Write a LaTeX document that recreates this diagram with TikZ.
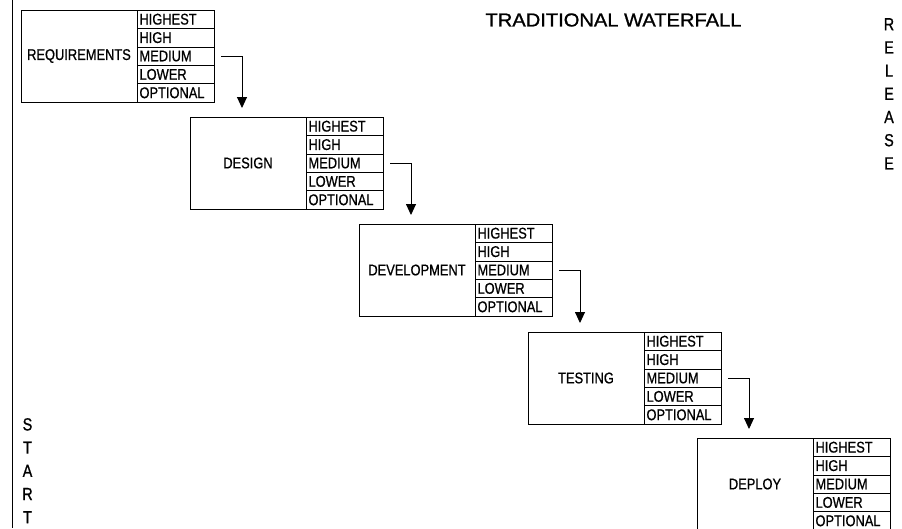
\documentclass[tikz,border=0pt]{standalone}
\usepackage{fontspec}
\setmainfont{Liberation Sans}
\newfontfamily\condfont{Liberation Sans}[FakeStretch=0.83,FakeBold=0.8]
\newfontfamily\vertfont{Liberation Sans}[FakeStretch=0.82,FakeBold=1]
\newfontfamily\titlefont{Liberation Sans}[FakeStretch=1.07,FakeBold=1]
\usetikzlibrary{arrows.meta}
\tikzset{
  x=1pt, y=-1pt,
  line width=0.9pt,
  mainbox/.style={draw, anchor=north west, minimum width=116pt, minimum height=92pt,
    inner sep=0pt, outer sep=0pt, font=\condfont\fontsize{15.5}{18}\selectfont},
  rowbox/.style={draw, anchor=north west, text width=72pt, inner xsep=2.5pt, inner ysep=0pt,
    minimum height=18.4pt, align=left, outer sep=0pt, font=\condfont\fontsize{15.5}{18}\selectfont},
  flowarrow/.style={-{Triangle[width=10pt,length=11pt]}, line width=0.9pt},
  vertlabel/.style={anchor=north, align=center, inner sep=0pt, font=\vertfont\fontsize{17.5}{23.2}\selectfont},
  titlelabel/.style={inner sep=0pt, font=\titlefont\fontsize{18.8}{22}\selectfont}
}
\newcommand{\wfstage}[4]{%
  \node[mainbox] (#1) at (#2,#3) {#4};
  \node[rowbox] (#1-1) at (#1.north east) {HIGHEST};
  \node[rowbox] (#1-2) at (#1-1.south west) {HIGH};
  \node[rowbox] (#1-3) at (#1-2.south west) {MEDIUM};
  \node[rowbox] (#1-4) at (#1-3.south west) {LOWER};
  \node[rowbox] (#1-5) at (#1-4.south west) {OPTIONAL};
}
\begin{document}
\begin{tikzpicture}
\useasboundingbox (0,0) rectangle (902,528);
\clip (0,0) rectangle (902,528);
\coordinate (ltop) at (12,0);
\coordinate (lbot) at (12,528);
\draw (ltop) -- (lbot);
\node[titlelabel] (title) at (613.5,20) {TRADITIONAL WATERFALL};
\node[vertlabel] (release) at (889,18) {R\\E\\L\\E\\A\\S\\E};
\node[vertlabel] (start) at (27.5,418) {S\\T\\A\\R\\T};
\wfstage{s1}{21}{10}{REQUIREMENTS}
\wfstage{s2}{190}{117}{DESIGN}
\wfstage{s3}{359}{224}{DEVELOPMENT}
\wfstage{s4}{528}{332}{TESTING}
\wfstage{s5}{697}{438}{DEPLOY}
\draw[flowarrow] ([xshift=7pt]s1-3.east) -| ([xshift=52pt,yshift=9pt]s2.north west);
\draw[flowarrow] ([xshift=7pt]s2-3.east) -| ([xshift=52pt,yshift=9pt]s3.north west);
\draw[flowarrow] ([xshift=7pt]s3-3.east) -| ([xshift=52pt,yshift=9pt]s4.north west);
\draw[flowarrow] ([xshift=7pt]s4-3.east) -| ([xshift=52pt,yshift=9pt]s5.north west);
\end{tikzpicture}
\end{document}
